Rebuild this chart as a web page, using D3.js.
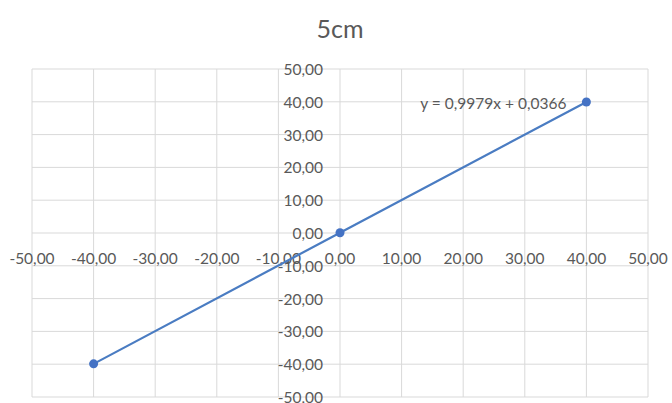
<!DOCTYPE html>
<html>
<head>
<meta charset="utf-8">
<script src="https://cdn.jsdelivr.net/npm/d3@7"></script>
<style>
  body { margin: 0; background: #fff; }
  text { font-family: Lato, "Open Sans", sans-serif; fill: #595959; }
</style>
</head>
<body>
<div id="chart"></div>
<script>
var title = '5cm';
var xValues = [-40, 0, 40];
var yValues = [-39.9, 0.08, 39.93];
var tickValues = [-50, -40, -30, -20, -10, 0, 10, 20, 30, 40, 50];
var trendLabel = 'y = 0,9979x + 0,0366';

var width = 672,
	height = 403;
var plot = {left: 32, right: 648, top: 69, bottom: 397};

var svg = d3.select('#chart')
		.append('svg')
		.attr('width', width)
		.attr('height', height)

var x = d3.scaleLinear().domain([-50, 50]).range([plot.left, plot.right]);
var y = d3.scaleLinear().domain([-50, 50]).range([plot.bottom, plot.top]);

var fmt = d => d3.format('.2f')(d).replace('.', ',').replace('−', '-');

// gridlines
svg.append('g')
	.selectAll('line')
	.data(tickValues)
	.enter()
	.append('line')
	.attr('x1', d => x(d)).attr('x2', d => x(d))
	.attr('y1', plot.top).attr('y2', plot.bottom)
	.attr('stroke', '#d9d9d9')
	.attr('stroke-width', 1)

svg.append('g')
	.selectAll('line')
	.data(tickValues)
	.enter()
	.append('line')
	.attr('x1', plot.left).attr('x2', plot.right)
	.attr('y1', d => y(d)).attr('y2', d => y(d))
	.attr('stroke', '#d9d9d9')
	.attr('stroke-width', 1)

// tick labels
svg.append('g')
	.selectAll('text')
	.data(tickValues)
	.enter()
	.append('text')
	.attr('x', d => x(d))
	.attr('y', y(0) + 25)
	.attr('text-anchor', 'middle')
	.attr('dominant-baseline', 'central')
	.style('font-size', '15.5px')
	.text(fmt)

svg.append('g')
	.selectAll('text')
	.data(tickValues)
	.enter()
	.append('text')
	.attr('x', x(0) - 17)
	.attr('y', d => y(d))
	.attr('text-anchor', 'end')
	.attr('dominant-baseline', 'central')
	.style('font-size', '15.5px')
	.text(fmt)

// title
svg.append('text')
	.attr('x', x(0))
	.attr('y', 28)
	.attr('text-anchor', 'middle')
	.attr('dominant-baseline', 'central')
	.style('font-size', '25px')
	.text(title)

// series
var points = xValues.map((v, i) => [v, yValues[i]]);

svg.append('path')
	.datum(points)
	.attr('fill', 'none')
	.attr('stroke', '#4a7cc2')
	.attr('stroke-width', 2.2)
	.attr('d', d3.line().x(d => x(d[0])).y(d => y(d[1])))

svg.append('g')
	.selectAll('circle')
	.data(points)
	.enter()
	.append('circle')
	.attr('cx', d => x(d[0]))
	.attr('cy', d => y(d[1]))
	.attr('r', 4.5)
	.attr('fill', '#4472c4')

// trendline label
svg.append('text')
	.attr('x', x(40) - 20)
	.attr('y', y(40) + 1)
	.attr('text-anchor', 'end')
	.attr('dominant-baseline', 'central')
	.style('font-size', '15.5px')
	.text(trendLabel)
</script>
</body>
</html>
